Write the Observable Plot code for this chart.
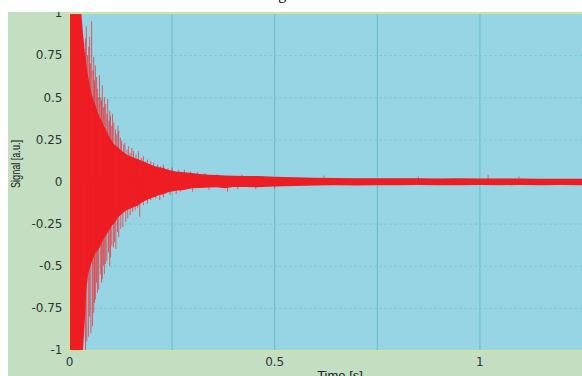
<!DOCTYPE html>
<html><head><meta charset="utf-8">
<script src="https://cdn.jsdelivr.net/npm/d3@7"></script>
<script src="https://cdn.jsdelivr.net/npm/@observablehq/plot@0.6"></script>
<style>
html,body{margin:0;padding:0;background:#fff;width:582px;height:376px;overflow:hidden;position:relative}
#title{position:absolute;left:265px;top:-14px;font:16px "Liberation Serif",serif;line-height:16px;color:#000;white-space:nowrap}
#chart{position:absolute;left:8px;top:12px;width:574px;height:364px;background:#c3dec2;overflow:hidden}
</style></head><body>
<div id="title">Signal</div>
<div id="chart"></div>
<script>
// Envelope of the dense signal (solid band)
const envT  = [0,0.01,0.02,0.03, 0.034,0.038,0.042,0.046, 0.05,0.055,0.06,0.065,0.07,0.075,0.08,0.085,0.09,0.095, 0.10,0.105,0.11,0.115,0.12,0.125,0.13,0.135,0.14, 0.15,0.16,0.17,0.18,0.19,0.20,0.21,0.22,0.23,0.24,0.25,0.26, 0.28,0.30,0.32,0.34,0.36,0.38,0.40, 0.43,0.46, 0.50,0.55,0.60,0.65,0.70,0.75,0.80,0.85,0.90,0.95,1.00,1.05,1.10,1.15,1.20,1.25];
const envHi = [1,1,1,1, 0.88,0.78,0.7,0.63, 0.58,0.52,0.48,0.45,0.41,0.38,0.36,0.33,0.31,0.28, 0.26,0.24,0.22,0.21,0.20,0.19,0.18,0.17,0.16, 0.15,0.14,0.13,0.12,0.11,0.10,0.09,0.085,0.08,0.07,0.065,0.06, 0.055,0.05,0.045,0.04,0.038,0.036,0.034, 0.033,0.032, 0.028,0.025,0.023,0.021,0.02,0.019,0.02,0.019,0.018,0.019,0.018,0.018,0.018,0.017,0.017,0.017];
const envLo = [-1,-1,-1,-1, -1,-0.85,-0.65,-0.56, -0.52,-0.48,-0.45,-0.42,-0.41,-0.39,-0.36,-0.34,-0.32,-0.30, -0.28,-0.26,-0.25,-0.23,-0.21,-0.2,-0.19,-0.18,-0.17, -0.16,-0.15,-0.14,-0.12,-0.11,-0.10,-0.09,-0.08,-0.075,-0.065,-0.06,-0.055, -0.05,-0.04,-0.038,-0.036,-0.034,-0.04,-0.033, -0.032,-0.034, -0.03,-0.026,-0.024,-0.022,-0.023,-0.022,-0.022,-0.021,-0.022,-0.022,-0.021,-0.022,-0.021,-0.022,-0.021,-0.022];

// Individual spikes sticking out of the band
const upT   = [0.039,0.041,0.044,0.047,0.049,0.051,0.054,0.057,0.059,0.061,0.063,0.066,0.068,0.070,0.073,0.076,0.078,0.080,0.083,0.085,0.088,0.091,0.093,0.096,0.098,0.100,0.103,0.105,0.108,0.112,0.115,0.118,0.120,0.124,0.127,0.132,0.135,0.140,0.144,0.148,0.152,0.156,0.162,0.168,0.175,0.180,0.185,0.190,0.198,0.205,0.215,0.222,0.229,0.240,0.250,0.266,0.280,0.295,0.312,0.330,0.360,0.420,0.620,0.850,1.02,1.095];
const upV   = [0.85,0.92,0.75,0.80,0.86,0.70,0.95,0.66,0.74,0.60,0.69,0.62,0.55,0.50,0.63,0.50,0.48,0.57,0.44,0.50,0.46,0.40,0.49,0.36,0.42,0.39,0.33,0.40,0.35,0.31,0.28,0.33,0.30,0.26,0.24,0.22,0.23,0.19,0.21,0.17,0.20,0.18,0.16,0.18,0.14,0.15,0.12,0.13,0.12,0.11,0.10,0.09,0.10,0.08,0.085,0.07,0.07,0.06,0.054,0.05,0.045,0.04,0.035,0.03,0.04,0.03];
const downT = [0.015,0.029,0.039,0.042,0.046,0.049,0.052,0.056,0.059,0.061,0.063,0.066,0.068,0.071,0.075,0.078,0.080,0.083,0.085,0.088,0.091,0.095,0.098,0.100,0.103,0.107,0.110,0.113,0.117,0.120,0.125,0.130,0.137,0.142,0.148,0.154,0.160,0.166,0.171,0.180,0.190,0.198,0.210,0.220,0.229,0.245,0.260,0.271,0.300,0.340,0.385,0.410,0.454,0.500];
const downV = [-1,-1,-1,-0.95,-0.92,-0.80,-0.90,-0.86,-0.78,-0.72,-0.70,-0.60,-0.66,-0.64,-0.55,-0.60,-0.58,-0.50,-0.55,-0.49,-0.47,-0.42,-0.50,-0.45,-0.38,-0.39,-0.36,-0.40,-0.30,-0.33,-0.28,-0.27,-0.24,-0.22,-0.20,-0.18,-0.17,-0.155,-0.21,-0.14,-0.13,-0.11,-0.10,-0.11,-0.095,-0.08,-0.075,-0.06,-0.06,-0.05,-0.06,-0.045,-0.045,-0.04];

const xTicks = [0,0.25,0.5,0.75,1];
const xTickLabels = ["0","","0.5","","1"];
const yTicks = [-1,-0.75,-0.5,-0.25,0,0.25,0.5,0.75,1];
const yTickLabels = ["-1","-0.75","-0.5","-0.25","0","0.25","0.5","0.75","1"];
const xLabel = "Time [s]";
const yLabel = "Signal [a.u.]";

const envelope = envT.map((t,i)=>({t, hi: envHi[i], lo: envLo[i]}));
const ups = upT.map((t,i)=>({t, v: upV[i]}));
const downs = downT.map((t,i)=>({t, v: downV[i]}));

const red = "#ee1d24";
const axisYellow = "#d9e587";

const plot = Plot.plot({
  width: 574, height: 364,
  marginLeft: 61, marginRight: 0, marginTop: 1, marginBottom: 26,
  style: {fontFamily: "DejaVu Sans, sans-serif", fontSize: "12px", color: "#333", background: "transparent", overflow: "visible"},
  x: {domain: [0, 1.25]},
  y: {domain: [-1, 1]},
  marks: [
    Plot.frame({fill: "#97d5e4", stroke: null}),
    Plot.gridX([0.25,0.5,0.75,1], {stroke: "#5ec0ca", strokeOpacity: 1}),
    Plot.gridY([-0.75,-0.5,-0.25,0,0.25,0.5,0.75], {stroke: "#78c8d3", strokeOpacity: 1, strokeDasharray: "3,2"}),
    Plot.areaY(envelope, {x: "t", y1: "lo", y2: "hi", fill: red}),
    Plot.ruleX(ups, {x: "t", y1: 0, y2: "v", stroke: red, strokeOpacity: 0.65}),
    Plot.ruleX(downs, {x: "t", y1: 0, y2: "v", stroke: red, strokeOpacity: 0.65}),
    Plot.frame({stroke: axisYellow}),
    Plot.axisX({ticks: xTicks, tickFormat: d=>xTickLabels[xTicks.indexOf(d)], tickSize: 3, tickPadding: 4, stroke: axisYellow, label: null, fill: "#333"}),
    Plot.axisY({ticks: yTicks, tickFormat: d=>yTickLabels[yTicks.indexOf(d)], tickSize: 3, tickPadding: 4, stroke: axisYellow, label: null, fill: "#333"}),
    Plot.text([xLabel], {frameAnchor: "bottom", dx: 14, dy: 20, lineAnchor: "top", fontSize: 13, fontFamily: "Liberation Sans, sans-serif", fill: "#222"}),
    Plot.text([yLabel], {frameAnchor: "left", rotate: -90, dx: -53, dy: 6, fontSize: 12, fontFamily: "Liberation Sans, sans-serif", fill: "#222"})
  ]
});
document.getElementById("chart").appendChild(plot);
// condense the y label like the reference
plot.querySelectorAll("text").forEach(t => {
  if (t.textContent === yLabel) { t.setAttribute("textLength", 48); t.setAttribute("lengthAdjust", "spacingAndGlyphs"); }
});
</script></body></html>
